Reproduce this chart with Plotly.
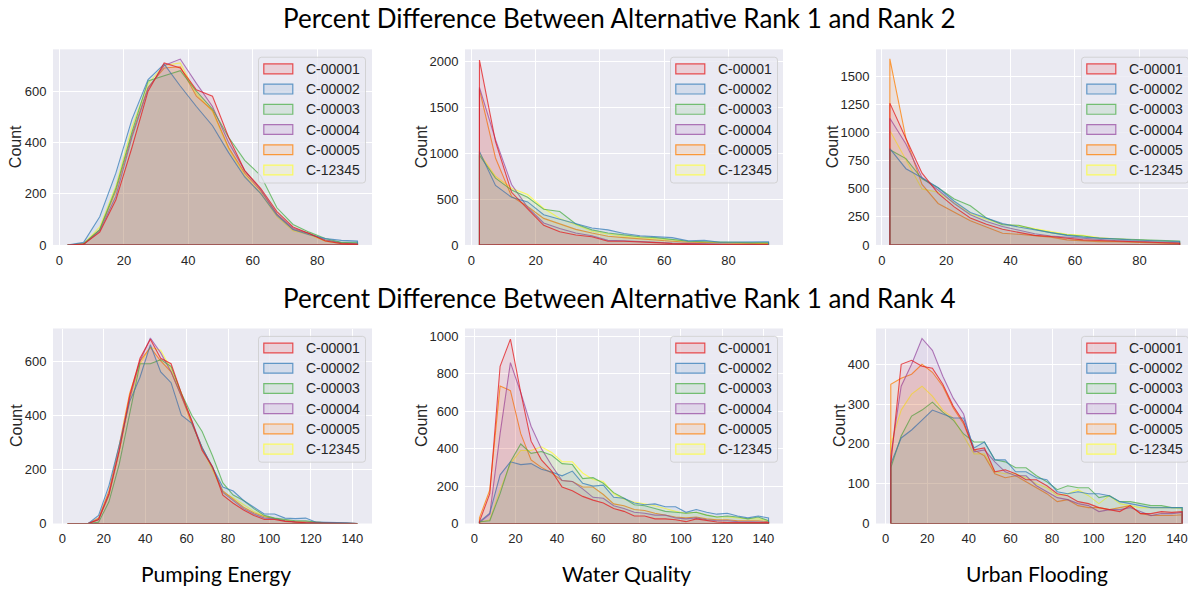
import plotly.graph_objects as go

W, H = 1188, 592

series_names = ["C-00001", "C-00002", "C-00003", "C-00004", "C-00005", "C-12345"]
series_colors = ["#e41a1c", "#377eb8", "#4daf4a", "#984ea3", "#ff7f00", "#ffff33"]

# histogram bin centres (bin width 5)
bins_rank2 = [2.5, 7.5, 12.5, 17.5, 22.5, 27.5, 32.5, 37.5, 42.5, 47.5,
              52.5, 57.5, 62.5, 67.5, 72.5, 77.5, 82.5, 87.5, 92.5]
bins_rank4 = [2.5, 7.5, 12.5, 17.5, 22.5, 27.5, 32.5, 37.5, 42.5, 47.5,
              52.5, 57.5, 62.5, 67.5, 72.5, 77.5, 82.5, 87.5, 92.5, 97.5,
              102.5, 107.5, 112.5, 117.5, 122.5, 127.5, 132.5, 137.5, 142.5]

# counts per series, in the order of series_names
pumping_rank2 = [
    [0, 3, 50, 175, 380, 600, 710, 690, 605, 580, 420, 290, 220, 130, 70, 45, 15, 5, 3],
    [0, 10, 110, 280, 490, 645, 705, 620, 540, 465, 360, 265, 200, 115, 60, 40, 25, 18, 15],
    [0, 5, 60, 220, 440, 640, 660, 680, 600, 530, 420, 330, 270, 145, 80, 50, 25, 10, 10],
    [0, 2, 55, 190, 420, 610, 700, 725, 630, 540, 400, 290, 215, 120, 65, 45, 20, 8, 5],
    [0, 3, 60, 210, 430, 615, 690, 695, 580, 525, 380, 280, 210, 120, 60, 45, 18, 8, 5],
    [0, 4, 70, 230, 460, 630, 700, 710, 590, 520, 375, 270, 200, 110, 55, 40, 15, 6, 5],
]
water_rank2 = [
    [2020, 1130, 575, 395, 215, 145, 108, 90, 40, 40, 35, 25, 15, 10, 8, 5, 5, 5, 5],
    [1020, 650, 520, 470, 330, 280, 230, 185, 165, 125, 100, 90, 80, 45, 50, 30, 30, 35, 35],
    [980, 730, 600, 520, 390, 365, 230, 165, 130, 110, 90, 80, 60, 40, 35, 30, 25, 25, 25],
    [1720, 1150, 660, 410, 240, 180, 130, 100, 50, 45, 40, 30, 20, 15, 10, 8, 8, 8, 5],
    [1700, 950, 530, 420, 290, 230, 170, 130, 95, 80, 65, 55, 40, 30, 25, 20, 15, 15, 15],
    [1000, 750, 620, 550, 400, 290, 220, 150, 120, 95, 80, 70, 55, 40, 30, 25, 20, 15, 15],
]
flooding_rank2 = [
    [1265, 950, 640, 460, 340, 240, 185, 140, 110, 85, 75, 60, 45, 40, 35, 30, 25, 20, 15],
    [860, 680, 600, 510, 390, 290, 240, 190, 160, 135, 110, 85, 70, 60, 50, 45, 40, 35, 30],
    [850, 770, 590, 510, 410, 350, 240, 180, 175, 140, 110, 90, 80, 60, 55, 50, 45, 40, 35],
    [1130, 900, 600, 490, 370, 270, 210, 165, 130, 100, 80, 70, 55, 45, 40, 35, 30, 25, 20],
    [1660, 950, 540, 370, 290, 215, 160, 105, 95, 85, 70, 45, 35, 30, 30, 25, 20, 15, 10],
    [1020, 760, 500, 470, 375, 280, 230, 185, 170, 145, 120, 95, 85, 65, 55, 45, 40, 35, 25],
]
pumping_rank4 = [
    [0, 0, 0, 15, 110, 270, 470, 610, 680, 610, 590, 480, 380, 270, 210, 105, 75, 50, 30, 15, 15, 8, 5, 3, 2, 2, 1, 0, 0],
    [0, 0, 0, 30, 140, 290, 450, 540, 660, 560, 520, 400, 370, 280, 210, 135, 120, 85, 60, 35, 35, 20, 18, 20, 5, 5, 5, 3, 0],
    [0, 0, 0, 5, 80, 220, 400, 590, 590, 605, 580, 480, 400, 340, 250, 150, 105, 85, 55, 30, 20, 15, 10, 10, 5, 3, 2, 1, 0],
    [0, 0, 0, 15, 105, 270, 460, 600, 685, 630, 560, 470, 380, 280, 210, 115, 85, 55, 35, 20, 18, 10, 6, 5, 2, 2, 1, 0, 0],
    [0, 0, 0, 20, 120, 290, 480, 600, 650, 600, 560, 470, 370, 280, 205, 120, 90, 60, 40, 25, 18, 10, 6, 5, 3, 2, 1, 0, 0],
    [0, 0, 0, 15, 100, 260, 450, 590, 650, 640, 570, 480, 370, 280, 200, 115, 95, 70, 45, 28, 20, 12, 8, 6, 3, 2, 1, 0, 0],
]
water_rank4 = [
    [10, 160, 840, 985, 700, 440, 340, 280, 195, 175, 145, 125, 110, 80, 65, 40, 40, 25, 25, 20, 10, 25, 15, 8, 5, 5, 5, 5, 5],
    [10, 55, 260, 330, 315, 320, 290, 275, 255, 280, 215, 200, 205, 140, 135, 110, 100, 105, 90, 90, 60, 75, 60, 50, 55, 40, 30, 40, 30],
    [10, 15, 160, 330, 425, 375, 385, 365, 320, 315, 240, 245, 215, 165, 135, 100, 95, 80, 65, 60, 55, 60, 45, 35, 40, 35, 25, 35, 15],
    [5, 50, 480, 860, 700, 520, 400, 310, 230, 225, 185, 140, 135, 95, 80, 60, 55, 45, 45, 30, 25, 30, 20, 15, 15, 10, 10, 10, 8],
    [30, 180, 735, 710, 480, 340, 300, 270, 230, 225, 195, 195, 155, 105, 95, 75, 70, 55, 45, 35, 30, 35, 25, 20, 20, 15, 15, 15, 10],
    [5, 20, 180, 320, 390, 390, 410, 380, 330, 330, 270, 235, 225, 160, 130, 115, 105, 95, 80, 65, 55, 60, 45, 35, 35, 30, 25, 25, 15],
]
flooding_rank4 = [
    [150, 400, 410, 395, 390, 350, 295, 255, 185, 190, 130, 135, 125, 110, 110, 95, 75, 70, 55, 50, 40, 35, 30, 45, 25, 25, 30, 28, 30],
    [150, 215, 235, 260, 285, 275, 265, 265, 190, 205, 160, 160, 130, 130, 115, 110, 80, 75, 80, 75, 75, 70, 55, 50, 45, 40, 40, 40, 40],
    [140, 220, 270, 285, 305, 280, 260, 225, 205, 205, 160, 155, 140, 140, 120, 105, 85, 95, 90, 90, 65, 70, 55, 55, 50, 45, 45, 40, 40],
    [170, 345, 400, 465, 435, 370, 315, 275, 180, 185, 155, 130, 120, 120, 95, 80, 65, 60, 50, 45, 30, 35, 35, 40, 30, 20, 25, 25, 28],
    [350, 365, 375, 400, 380, 345, 290, 250, 185, 170, 125, 115, 120, 105, 90, 75, 55, 60, 45, 40, 40, 35, 40, 45, 25, 20, 20, 20, 22],
    [200, 285, 325, 345, 320, 285, 265, 220, 175, 175, 130, 125, 125, 115, 100, 90, 70, 75, 85, 70, 50, 70, 50, 45, 40, 40, 40, 40, 38],
]

row_titles = ["Percent Difference Between Alternative Rank 1 and Rank 2",
              "Percent Difference Between Alternative Rank 1 and Rank 4"]
column_titles = ["Pumping Energy", "Water Quality", "Urban Flooding"]

# panel geometry in pixels: (left, right) per column, (top, bottom) per row
col_px = [(53, 372), (465, 783), (876, 1188)]
row_px = [(50, 248.3), (333, 530.7)]

panels = [
    dict(data=pumping_rank2, bins=bins_rank2, row=0, col=0, xr=[-2, 97], yr=[0, 763], dy=200, ylab=38),
    dict(data=water_rank2, bins=bins_rank2, row=0, col=1, xr=[-2, 97], yr=[0, 2137], dy=500, ylab=44),
    dict(data=flooding_rank2, bins=bins_rank2, row=0, col=2, xr=[-1.8, 95.1], yr=[0, 1745], dy=250, ylab=44),
    dict(data=pumping_rank4, bins=bins_rank4, row=1, col=0, xr=[-4.5, 149.5], yr=[0, 720], dy=200, ylab=37),
    dict(data=water_rank4, bins=bins_rank4, row=1, col=1, xr=[-4.5, 149.5], yr=[0, 1042], dy=200, ylab=44),
    dict(data=flooding_rank4, bins=bins_rank4, row=1, col=2, xr=[-4.6, 145.3], yr=[0, 490], dy=100, ylab=37),
]

SANS = "Liberation Sans, Arial, sans-serif"
TICK_FONT = dict(family=SANS, size=13, color="#262626")
BG = "#eaeaf2"
FILL_ALPHA = 0.09
LINE_ALPHA = 0.75


def rgba(hex_color, a):
    h = hex_color.lstrip("#")
    r, g, b = int(h[0:2], 16), int(h[2:4], 16), int(h[4:6], 16)
    return f"rgba({r},{g},{b},{a})"


def fx(x):
    return x / W


def fy(y):
    return 1 - y / H


def rounded_rect(x0, y0, x1, y1, r):
    pts = [
        f"M{fx(x0 + r)},{fy(y0)}", f"L{fx(x1 - r)},{fy(y0)}",
        f"Q{fx(x1)},{fy(y0)} {fx(x1)},{fy(y0 + r)}", f"L{fx(x1)},{fy(y1 - r)}",
        f"Q{fx(x1)},{fy(y1)} {fx(x1 - r)},{fy(y1)}", f"L{fx(x0 + r)},{fy(y1)}",
        f"Q{fx(x0)},{fy(y1)} {fx(x0)},{fy(y1 - r)}", f"L{fx(x0)},{fy(y0 + r)}",
        f"Q{fx(x0)},{fy(y0)} {fx(x0 + r)},{fy(y0)}", "Z",
    ]
    return " ".join(pts)


fig = go.Figure()
shapes = []
annotations = []

for i, p in enumerate(panels):
    n = i + 1
    xa = "x" if n == 1 else f"x{n}"
    ya = "y" if n == 1 else f"y{n}"
    left, right = col_px[p["col"]]
    top, bottom = row_px[p["row"]]

    # later hues drawn first so that the first hue ends up on top
    for k in reversed(range(len(series_names))):
        counts = p["data"][k]
        bins = p["bins"]
        xs = [bins[0]] + list(bins) + [bins[-1], bins[0]]
        ys = [0] + list(counts) + [0, 0]
        fig.add_trace(go.Scatter(
            x=xs, y=ys, xaxis=xa, yaxis=ya, mode="lines",
            fill="toself", fillcolor=rgba(series_colors[k], FILL_ALPHA),
            line=dict(color=rgba(series_colors[k], LINE_ALPHA), width=1.1),
            name=series_names[k], showlegend=False, hoverinfo="skip",
        ))

    ymax = p["yr"][1]
    tickvals_y = [v for v in range(0, int(ymax) + 1, p["dy"]) if v <= ymax]
    xmax = p["bins"][-1]
    tickvals_x = list(range(0, int(xmax) + 1, 20))

    axis_common = dict(
        showgrid=True, gridcolor="white", gridwidth=1, zeroline=False,
        showline=False, ticks="outside", ticklen=3, tickcolor="rgba(0,0,0,0)",
        tickfont=TICK_FONT,
    )
    fig.layout[f"xaxis{'' if n == 1 else n}"] = dict(
        domain=[fx(left), fx(right)], range=p["xr"], anchor=ya,
        tickvals=tickvals_x, **axis_common)
    fig.layout[f"yaxis{'' if n == 1 else n}"] = dict(
        domain=[fy(bottom), fy(top)], range=p["yr"], anchor=xa,
        tickvals=tickvals_y, **axis_common)

    # y-axis title
    annotations.append(dict(
        text="Count", xref="paper", yref="paper",
        x=fx(left - p["ylab"]), y=fy((top + bottom) / 2), textangle=-90,
        showarrow=False, xanchor="center", yanchor="middle",
        font=dict(family=SANS, size=16, color="#262626"),
    ))

    # legend box with patch handles
    L = left + 205.5
    T = top + 8
    shapes.append(dict(
        type="path", xref="paper", yref="paper", layer="above",
        path=rounded_rect(L, T, L + 107, T + 127.5, 3),
        fillcolor="rgba(234,234,242,0.8)", line=dict(color="rgba(204,204,204,0.8)", width=1),
    ))
    for k, name in enumerate(series_names):
        cy = T + 11.8 + 20.5 * k
        shapes.append(dict(
            type="rect", xref="paper", yref="paper", layer="above",
            x0=fx(L + 5.3), x1=fx(L + 34.3), y0=fy(cy + 5), y1=fy(cy - 5),
            fillcolor=rgba(series_colors[k], 0.12),
            line=dict(color=rgba(series_colors[k], LINE_ALPHA), width=1.2),
        ))
        annotations.append(dict(
            text=name, xref="paper", yref="paper", x=fx(L + 45.5), y=fy(cy),
            xanchor="left", yanchor="middle", showarrow=False,
            font=dict(family=SANS, size=14, color="#262626"),
        ))

TITLE_FONT = dict(family="Lato, sans-serif", size=26, color="black")
for title, ycen in zip(row_titles, [18, 302]):
    annotations.append(dict(
        text=title, xref="paper", yref="paper", x=fx(619), y=fy(ycen),
        xanchor="center", yanchor="middle", showarrow=False, font=TITLE_FONT,
    ))
for title, xcen in zip(column_titles, [216, 626, 1037]):
    annotations.append(dict(
        text=title, xref="paper", yref="paper", x=fx(xcen), y=fy(581),
        xanchor="center", yanchor="middle", showarrow=False,
        font=dict(family="Lato, sans-serif", size=21, color="black"),
    ))

fig.update_layout(
    width=W, height=H, margin=dict(l=0, r=0, t=0, b=0),
    paper_bgcolor="white", plot_bgcolor=BG,
    showlegend=False, shapes=shapes, annotations=annotations,
)

fig.write_html("out.html")
